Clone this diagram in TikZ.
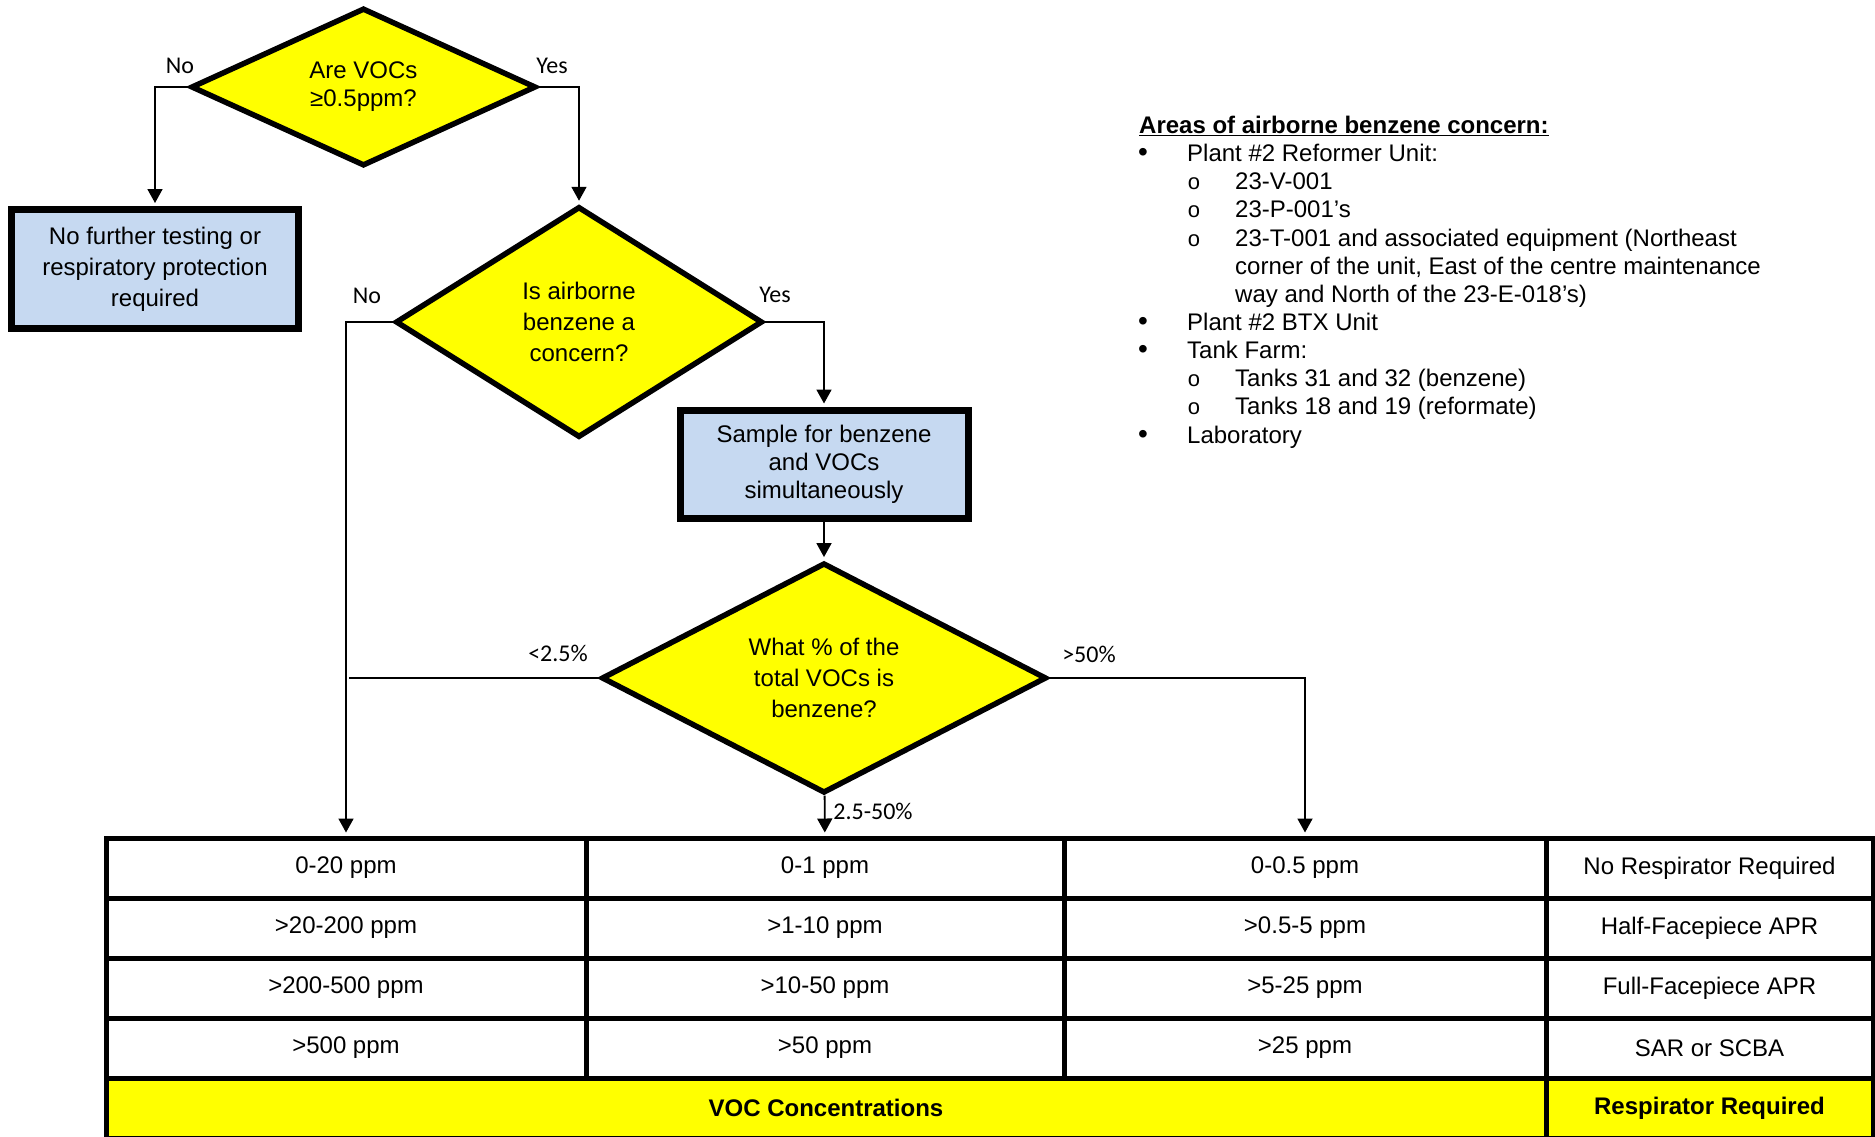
\documentclass[tikz,border=0pt]{standalone}
\usepackage{fontspec}
\setmainfont{Liberation Sans}
\newfontfamily\lblfont{Carlito}
\usetikzlibrary{shapes.geometric,arrows.meta}

\definecolor{decyellow}{RGB}{255,255,0}
\definecolor{boxblue}{RGB}{198,217,241}

\tikzstyle{decision} = [draw, fill=decyellow, diamond, line width=5.5pt,
    inner sep=0pt, align=center]
\tikzstyle{block} = [draw, fill=boxblue, rectangle, line width=7pt,
    inner sep=0pt, align=center]
\tikzstyle{cell} = [draw, rectangle, line width=5pt, minimum height=60pt, inner sep=0pt]
\tikzstyle{footcell} = [cell, fill=decyellow, font=\fontsize{24}{31}\selectfont\bfseries]
\tikzstyle{lbl} = [inner sep=0pt, font=\lblfont\fontsize{24}{28}\selectfont]
\tikzstyle{listtext} = [anchor=base west, inner sep=0pt, font=\fontsize{24}{28}\selectfont]
\tikzstyle{bul} = [anchor=base, inner sep=0pt, font=\fontsize{28}{28}\selectfont]
\tikzstyle{subbul} = [anchor=base, inner sep=0pt, font=\fontsize{22}{28}\selectfont]
\tikzstyle{line} = [line width=1.8pt, shorten >=3pt]

\begin{document}
\begin{tikzpicture}[x=1pt, y=-1pt, >={Triangle[length=14pt,width=15pt]},
    font=\fontsize{24}{31}\selectfont]
    \useasboundingbox (0,0) rectangle (1875,1136);

    \node [decision, minimum width=345pt, minimum height=158pt,
        font=\fontsize{24}{28}\selectfont] (vocs) at (363.5,87) {Are VOCs\\≥0.5ppm?};
    \node [block, minimum width=287pt, minimum height=119pt] (notest) at (155,269)
        {No further testing or\\respiratory protection\\required};
    \node [decision, minimum width=367pt, minimum height=231pt] (concern) at (579,322)
        {Is airborne\\benzene a\\concern?};
    \node [block, minimum width=288pt, minimum height=108pt,
        font=\fontsize{24}{28}\selectfont] (sample) at (824,464)
        {Sample for benzene\\and VOCs\\simultaneously};
    \node [decision, minimum width=445pt, minimum height=223pt] (percent) at (824,678)
        {What \% of the\\total VOCs is\\benzene?};

    \node [cell, minimum width=480pt] (lo1) at (346,868) {0-20 ppm};
    \node [cell, minimum width=480pt] (lo2) at (346,928) {>20-200 ppm};
    \node [cell, minimum width=480pt] (lo3) at (346,988) {>200-500 ppm};
    \node [cell, minimum width=480pt] (lo4) at (346,1048) {>500 ppm};
    \node [cell, minimum width=478pt] (mid1) at (825,868) {0-1 ppm};
    \node [cell, minimum width=478pt] (mid2) at (825,928) {>1-10 ppm};
    \node [cell, minimum width=478pt] (mid3) at (825,988) {>10-50 ppm};
    \node [cell, minimum width=478pt] (mid4) at (825,1048) {>50 ppm};
    \node [cell, minimum width=482pt] (hi1) at (1305,868) {0-0.5 ppm};
    \node [cell, minimum width=482pt] (hi2) at (1305,928) {>0.5-5 ppm};
    \node [cell, minimum width=482pt] (hi3) at (1305,988) {>5-25 ppm};
    \node [cell, minimum width=482pt] (hi4) at (1305,1048) {>25 ppm};
    \node [cell, minimum width=327pt] (resp1) at (1709.5,868) {No Respirator Required};
    \node [cell, minimum width=327pt] (resp2) at (1709.5,928) {Half-Facepiece APR};
    \node [cell, minimum width=327pt] (resp3) at (1709.5,988) {Full-Facepiece APR};
    \node [cell, minimum width=327pt] (resp4) at (1709.5,1048) {SAR or SCBA};
    \node [footcell, minimum width=1440pt] (vocfoot) at (826,1108) {VOC Concentrations};
    \node [footcell, minimum width=327pt] (respfoot) at (1709.5,1108) {Respirator Required};

    \draw [line, ->] (vocs.west) -| (notest.north);
    \draw [line, ->] (vocs.east) -| (concern.north);
    \draw [line, ->] (concern.west) -| (lo1.north);
    \draw [line, ->] (concern.east) -| (sample.north);
    \draw [line, ->] (sample) -- (percent);
    \draw [line] (percent.west) -- (percent.west -| lo1.north);
    \draw [line, ->] (percent.east) -| (hi1.north);
    \draw [line, ->] (percent) -- (mid1);

    \node [lbl] (no1) at (180,66) {No};
    \node [lbl] (yes1) at (552,66) {Yes};
    \node [lbl] (no2) at (367,296) {No};
    \node [lbl] (yes2) at (775,295) {Yes};
    \node [lbl] (low) at (558,653) {<2.5\%};
    \node [lbl] (high) at (1089,654) {>50\%};
    \node [lbl] (middle) at (873,811) {2.5-50\%};

    \node [listtext] (areas) at (1139,133.5) {\textbf{\underline{Areas of airborne benzene concern:}}};
    \node [bul] (b1) at (1143,161.5) {•};
    \node [listtext] (reformer) at (1187,161.5) {Plant \#2 Reformer Unit:};
    \node [subbul] (s1) at (1194,189.7) {o};
    \node [listtext] (vessel) at (1235,189.7) {23-V-001};
    \node [subbul] (s2) at (1194,217.9) {o};
    \node [listtext] (pumps) at (1235,217.9) {23-P-001’s};
    \node [subbul] (s3) at (1194,246) {o};
    \node [listtext] (tower) at (1235,246) {23-T-001 and associated equipment (Northeast};
    \node [listtext] (tower2) at (1235,274) {corner of the unit, East of the centre maintenance};
    \node [listtext] (tower3) at (1235,302) {way and North of the 23-E-018’s)};
    \node [bul] (b2) at (1143,330) {•};
    \node [listtext] (btx) at (1187,330) {Plant \#2 BTX Unit};
    \node [bul] (b3) at (1143,358.5) {•};
    \node [listtext] (farm) at (1187,358.5) {Tank Farm:};
    \node [subbul] (s4) at (1194,386.5) {o};
    \node [listtext] (tanksa) at (1235,386.5) {Tanks 31 and 32 (benzene)};
    \node [subbul] (s5) at (1194,414.5) {o};
    \node [listtext] (tanksb) at (1235,414.5) {Tanks 18 and 19 (reformate)};
    \node [bul] (b4) at (1143,443) {•};
    \node [listtext] (lab) at (1187,443) {Laboratory};
\end{tikzpicture}
\end{document}
